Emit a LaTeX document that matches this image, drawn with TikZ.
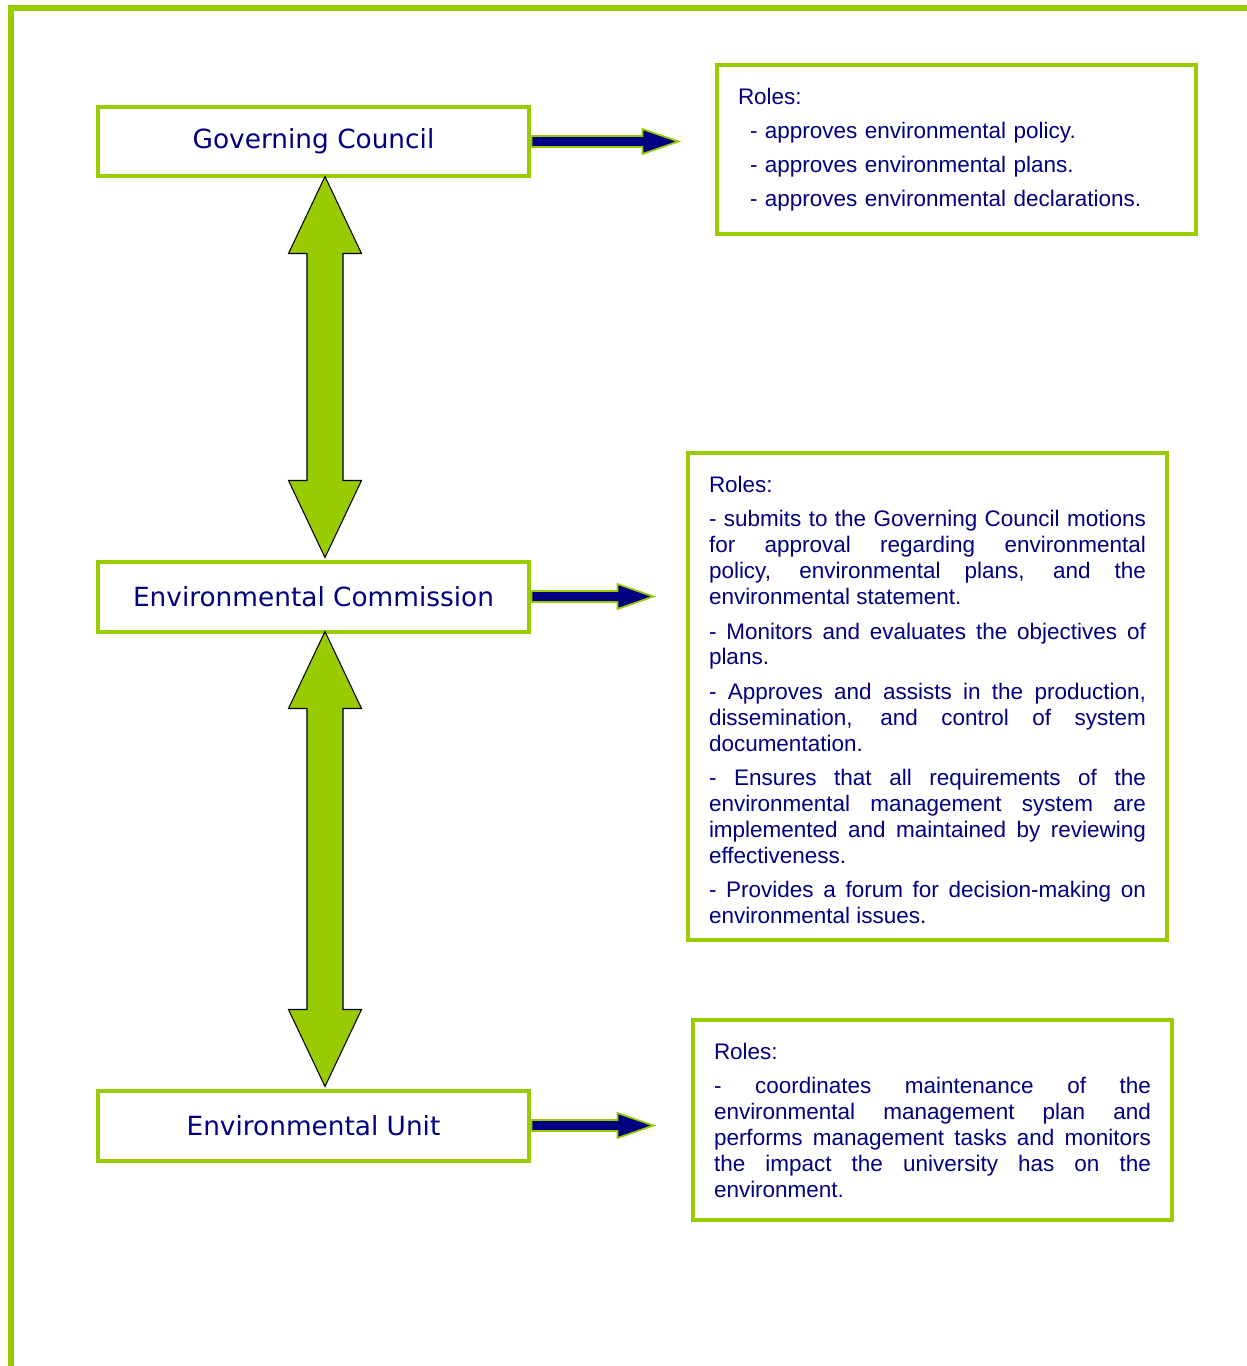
\documentclass[tikz,border=0pt]{standalone}
\usepackage{fontspec}
\setmainfont{Liberation Sans}
\newfontfamily\titlefont{DejaVu Sans}
\usetikzlibrary{calc}
\definecolor{leaf}{HTML}{99CC00}
\definecolor{ink}{HTML}{000080}
\hyphenpenalty=10000
\exhyphenpenalty=10000
\tolerance=10000

\tikzset{
  unit/.style = {draw = leaf, line width = .08cm, fill = white,
    minimum width = 8.64cm, minimum height = 1.4cm, text = ink,
    font = \titlefont\fontsize{15}{18}\selectfont},
  roles/.style = {draw = leaf, line width = .08cm, anchor = north west,
    text width = 8.74cm, inner xsep = .42cm, inner ysep = .46cm,
    align = justify, text = ink,
    font = \fontsize{12.8}{14.7}\selectfont\setlength\parskip{5pt}},
  link/.style = {fill = leaf, draw = black, line width = .6pt},
  duty/.style = {fill = ink, draw = leaf, line width = 1pt}
}

% green two-headed arrow from #1 (upper tip) to #2 (lower tip)
\newcommand\linkarrow[2]{%
  \draw[link] (#1) -- ++(36.5,77) -- ++(-18.5,0) -- ($(#2)+(18,-77)$)
    -- ++(18.5,0) -- (#2) -- ++(-36.5,-77) -- ++(18.5,0)
    -- ($(#1)+(-18,77)$) -- ++(-18.5,0) -- cycle;}
% navy arrow from #1 to the tip #2
\newcommand\dutyarrow[2]{%
  \draw[duty] ($(#1)+(0,-5.5)$) -- ($(#2)+(-36,-5.5)$) -- ++(0,-7)
    -- (#2) -- ($(#2)+(-36,12.5)$) -- ++(0,-7)
    -- ($(#1)+(0,5.5)$) -- cycle;}

\begin{document}
\begin{tikzpicture}
      [x = .02cm, y = -.02cm]
      \useasboundingbox (0,0) rectangle (1247,1366);
      \draw[leaf, line width = .12cm] (11,1366) -- (11,8) -- (1247,8);

      \node[unit] (gc) at (313.5,141.5) {Governing Council};
      \node[unit] (ec) at (313.5,596.5) {Environmental Commission};
      \node[unit] (eu) at (313.5,1125.5) {Environmental Unit};

      \node[roles, align = left, font = \fontsize{12.8}{19.3}\selectfont]
        (gcroles) at (715,63)
        {Roles:\\
         \hspace*{.24cm}- approves environmental policy.\\
         \hspace*{.24cm}- approves environmental plans.\\
         \hspace*{.24cm}- approves environmental declarations.};
      \node[roles] (ecroles) at (686,451)
        {Roles:\par
         - submits to the Governing Council motions\linebreak
         for approval regarding environmental\linebreak
         policy, environmental plans, and the\linebreak
         environmental statement.\par
         - Monitors and evaluates the objectives of\linebreak
         plans.\par
         - Approves and assists in the production,\linebreak
         dissemination, and control of system\linebreak
         documentation.\par
         - Ensures that all requirements of the\linebreak
         environmental management system are\linebreak
         implemented and maintained by reviewing\linebreak
         effectiveness.\par
         - Provides a forum for decision-making on\linebreak
         environmental issues.\par\vspace*{-.14cm}};
      \node[roles] (euroles) at (691,1018)
        {Roles:\par
         - coordinates maintenance of the\linebreak
         environmental management plan and\linebreak
         performs management tasks and monitors\linebreak
         the impact the university has on the\linebreak
         environment.};

      \coordinate (gctip) at ($(gc.east)+(147,0)$);
      \coordinate (ectip) at ($(ec.east)+(122,0)$);
      \coordinate (eutip) at ($(eu.east)+(122,0)$);
      \dutyarrow{gc.east}{gctip}
      \dutyarrow{ec.east}{ectip}
      \dutyarrow{eu.east}{eutip}

      \linkarrow{$(gc.south)+(11.5,-2)$}{$(ec.north)+(11.5,-2)$}
      \linkarrow{$(ec.south)+(11.5,-2)$}{$(eu.north)+(11.5,-2)$}
    \end{tikzpicture}
\end{document}
